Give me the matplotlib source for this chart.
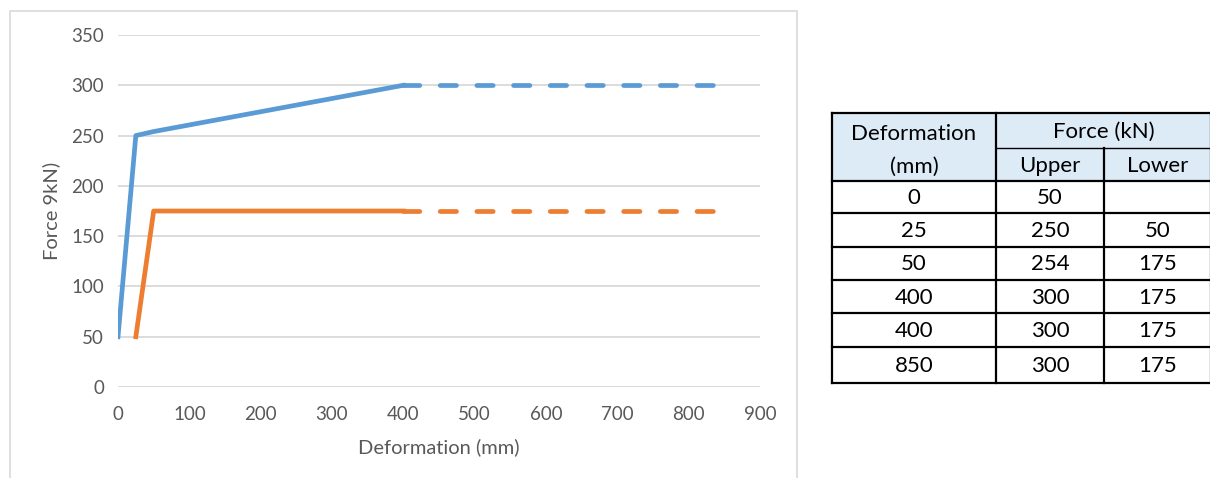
import matplotlib
matplotlib.use("Agg")
from matplotlib import pyplot as plt
from matplotlib.patches import Rectangle

deformation = [0, 25, 50, 400, 400, 850]
upper_force = [50, 250, 254, 300, 300, 300]
lower_force = [None, 50, 175, 175, 175, 175]

# solid part and dashed extension
upper_x_solid, upper_y_solid = deformation[:4], upper_force[:4]
upper_x_dash, upper_y_dash = deformation[4:], upper_force[4:]
lower_x_solid, lower_y_solid = deformation[1:4], lower_force[1:4]
lower_x_dash, lower_y_dash = deformation[4:], lower_force[4:]

x_ticks = [0, 100, 200, 300, 400, 500, 600, 700, 800, 900]
y_ticks = [0, 50, 100, 150, 200, 250, 300, 350]

blue = '#5B9BD5'
orange = '#ED7D31'
grey_text = '#595959'
font = 'Lato'

W, H = 1210, 478
fig = plt.figure(figsize=(W / 100, H / 100), dpi=100)

# Chart frame (light grey border like Excel chart area)
fig.patches.append(Rectangle((10 / W, -0.05), 787 / W, 1 - 11 / H + 0.05,
                             transform=fig.transFigure, fill=False,
                             edgecolor='#D9D9D9', linewidth=1.2))

ax = fig.add_axes([118 / W, 1 - 387 / H, 642 / W, 352 / H])
lw = 3.4
dash = (3.45, 4.32)
ax.plot(upper_x_solid, upper_y_solid, color=blue, lw=lw, solid_joinstyle='round', zorder=3)
ax.plot(upper_x_dash, upper_y_dash, color=blue, lw=lw, dashes=dash,
        dash_capstyle='round', zorder=3)
ax.plot(lower_x_solid, lower_y_solid, color=orange, lw=lw, solid_joinstyle='round', zorder=3)
ax.plot(lower_x_dash, lower_y_dash, color=orange, lw=lw, dashes=dash,
        dash_capstyle='round', zorder=3)

ax.set_xlim(0, 900)
ax.set_ylim(0, 350)
ax.set_xticks(x_ticks)
ax.set_yticks(y_ticks)
ax.grid(axis='y', color='#D9D9D9', linewidth=1.3)
ax.set_axisbelow(True)
for s in ax.spines.values():
    s.set_visible(False)
ax.tick_params(length=0, labelsize=13.5, labelcolor=grey_text, pad=10)
ax.tick_params(axis='x', pad=14)
for lab in ax.get_xticklabels() + ax.get_yticklabels():
    lab.set_fontfamily(font)
ax.set_xlabel('Deformation (mm)', fontsize=14.5, color=grey_text, family=font, labelpad=11)
ax.set_ylabel('Force 9kN)', fontsize=14.5, color=grey_text, family=font, labelpad=8)

# Table on the right
col_x = [832, 996, 1104, 1212]
row_y = [113, 148, 181, 213, 247, 280, 313, 347, 383]
fx = lambda px: px / W
fy = lambda py: 1 - py / H
tfs = 16

fig.patches.append(Rectangle((fx(col_x[0]), fy(row_y[2])), fx(col_x[3]) - fx(col_x[0]),
                             fy(row_y[0]) - fy(row_y[2]), transform=fig.transFigure,
                             facecolor='#DDEBF7', edgecolor='none'))

def hline(y, x0, x1, lw=1.6):
    fig.add_artist(plt.Line2D([fx(x0), fx(x1)], [fy(y), fy(y)], color='black', lw=lw))

def vline(x, y0, y1, lw=1.6):
    fig.add_artist(plt.Line2D([fx(x), fx(x)], [fy(y0), fy(y1)], color='black', lw=lw))

hline(row_y[0], col_x[0], col_x[3])
hline(row_y[1], col_x[1], col_x[3], lw=1.0)
for y in row_y[2:]:
    hline(y, col_x[0], col_x[3])
vline(col_x[0], row_y[0], row_y[-1])
vline(col_x[1], row_y[0], row_y[-1])
vline(col_x[2], row_y[1], row_y[-1])
vline(col_x[3] - 1, row_y[0], row_y[-1])

def cell_text(txt, xc, yc):
    fig.text(fx(xc), fy(yc + 1), txt, ha='center', va='center', fontsize=tfs, family=font)

cell_text('Deformation', (col_x[0] + col_x[1]) / 2, (row_y[0] + row_y[1]) / 2 + 2)
cell_text('(mm)', (col_x[0] + col_x[1]) / 2, (row_y[1] + row_y[2]) / 2 + 1)
cell_text('Force (kN)', (col_x[1] + col_x[3]) / 2, (row_y[0] + row_y[1]) / 2)
cell_text('Upper', (col_x[1] + col_x[2]) / 2, (row_y[1] + row_y[2]) / 2)
cell_text('Lower', (col_x[2] + col_x[3]) / 2, (row_y[1] + row_y[2]) / 2)

for i, (d, u, l) in enumerate(zip(deformation, upper_force, lower_force)):
    yc = (row_y[2 + i] + row_y[3 + i]) / 2
    cell_text(str(d), (col_x[0] + col_x[1]) / 2, yc)
    cell_text(str(u), (col_x[1] + col_x[2]) / 2, yc)
    if l is not None:
        cell_text(str(l), (col_x[2] + col_x[3]) / 2, yc)

fig.savefig('out.png', dpi=100)
